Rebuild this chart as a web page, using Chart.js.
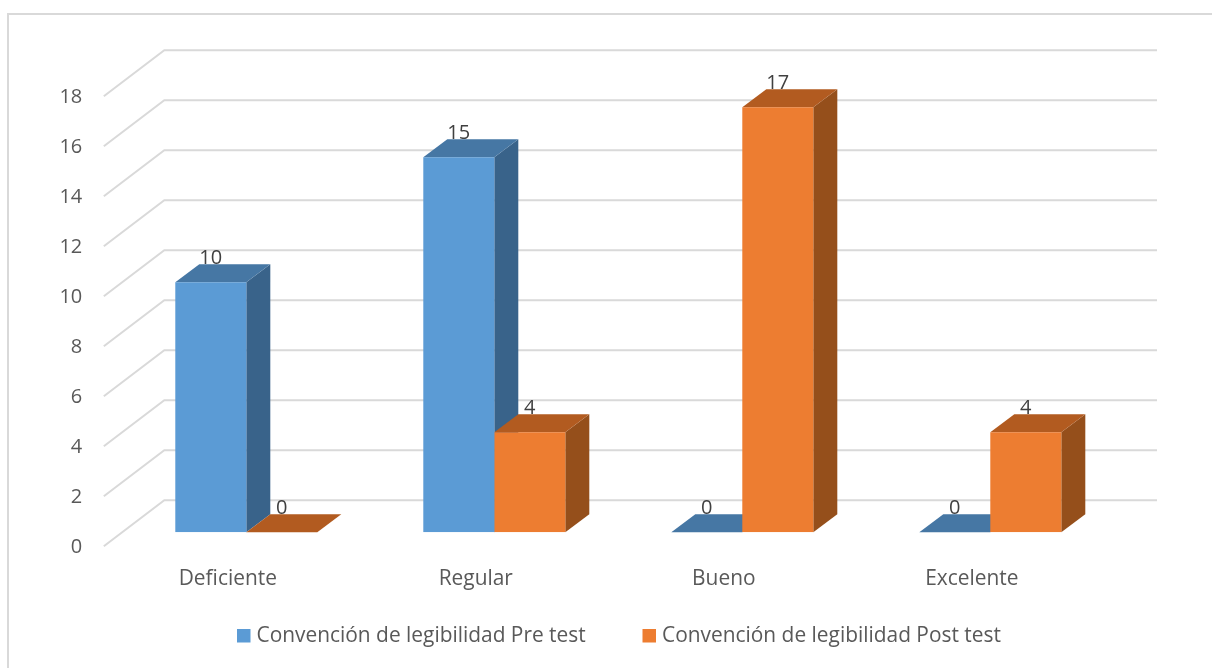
<!DOCTYPE html>
<html>
<head>
<meta charset="utf-8">
<title>Convención de legibilidad</title>
<script src="https://cdn.jsdelivr.net/npm/chart.js@4"></script>
<style>
    html, body { margin: 0; padding: 0; background: #fff; }
    canvas { display: block; }
</style>
</head>
<body>
<canvas id="legibilidadChart" width="1212" height="668"></canvas>
<script>
const categories = ['Deficiente', 'Regular', 'Bueno', 'Excelente'];
const seriesNames = ['Convención de legibilidad Pre test', 'Convención de legibilidad Post test'];
const preTest = [10, 15, 0, 0];
const postTest = [0, 4, 17, 4];

const FONT = '"Open Sans", sans-serif';
const faces = [
    { front: '#5b9bd5', top: '#4677a4', side: '#39638a' },
    { front: '#ed7d31', top: '#b25b20', side: '#954f1b' }
];
const barDepth = { x: 24, y: -18 };     // fake 3d depth of the columns
const wallBack = { x: 42, y: -32 };     // back wall, seen from the bar front plane
const wallFront = { x: -18.5, y: 14 };  // where the floor lines stop at the left
const wallRight = 1157;

function poly(ctx, points, color) {
    ctx.fillStyle = color;
    ctx.beginPath();
    points.forEach((p, i) => i ? ctx.lineTo(p[0], p[1]) : ctx.moveTo(p[0], p[1]));
    ctx.closePath();
    ctx.fill();
}

const frame = {
    id: 'frame',
    beforeDraw(chart) {
        const ctx = chart.ctx;
        ctx.save();
        ctx.strokeStyle = '#d9d9d9';
        ctx.lineWidth = 2;
        ctx.beginPath();
        ctx.moveTo(8, chart.height);
        ctx.lineTo(8, 14);
        ctx.lineTo(chart.width, 14);
        ctx.stroke();
        ctx.restore();
    }
};

const walls = {
    id: 'walls',
    beforeDatasetsDraw(chart) {
        const ctx = chart.ctx;
        const yScale = chart.scales.y;
        const left = chart.chartArea.left;
        ctx.save();
        ctx.strokeStyle = '#d9d9d9';
        ctx.lineWidth = 2;
        yScale.ticks.forEach(t => {
            const y = yScale.getPixelForValue(t.value);
            ctx.beginPath();
            ctx.moveTo(left + wallFront.x, y + wallFront.y);
            ctx.lineTo(left + wallBack.x, y + wallBack.y);
            ctx.lineTo(wallRight, y + wallBack.y);
            ctx.stroke();
        });
        ctx.restore();
    }
};

// side and top faces go under the front rectangles drawn by the library
const depthFaces = {
    id: 'depthFaces',
    beforeDatasetsDraw(chart) {
        const ctx = chart.ctx;
        chart.data.datasets.forEach((ds, i) => {
            chart.getDatasetMeta(i).data.forEach(bar => {
                const l = bar.x - bar.width / 2;
                const r = bar.x + bar.width / 2;
                const dx = barDepth.x, dy = barDepth.y;
                if (bar.base - bar.y > 0) {
                    poly(ctx, [[r, bar.y], [r + dx, bar.y + dy], [r + dx, bar.base + dy], [r, bar.base]], faces[i].side);
                }
                poly(ctx, [[l, bar.y], [r, bar.y], [r + dx, bar.y + dy], [l + dx, bar.y + dy]], faces[i].top);
            });
        });
    }
};

const valueLabels = {
    id: 'valueLabels',
    afterDatasetsDraw(chart) {
        const ctx = chart.ctx;
        ctx.save();
        ctx.font = '20px ' + FONT;
        ctx.fillStyle = '#404040';
        ctx.textAlign = 'center';
        ctx.textBaseline = 'middle';
        chart.data.datasets.forEach((ds, i) => {
            chart.getDatasetMeta(i).data.forEach((bar, j) => {
                ctx.fillText(ds.data[j], bar.x, bar.y - 24);
            });
        });
        ctx.restore();
    }
};

// the library legend has a fixed gap between box and text, too wide here
const bottomLegend = {
    id: 'bottomLegend',
    afterDraw(chart) {
        const ctx = chart.ctx;
        const starts = [237, 642.5];
        ctx.save();
        ctx.font = '20.9px ' + FONT;
        ctx.textBaseline = 'middle';
        chart.data.datasets.forEach((ds, i) => {
            ctx.fillStyle = ds.backgroundColor;
            ctx.fillRect(starts[i], 629, 13.5, 13.5);
            ctx.fillStyle = '#595959';
            ctx.fillText(ds.label, starts[i] + 19.5, 636.5);
        });
        ctx.restore();
    }
};

new Chart(document.getElementById('legibilidadChart').getContext('2d'), {
    type: 'bar',
    data: {
        labels: categories,
        datasets: [
            { label: seriesNames[0], data: preTest, backgroundColor: faces[0].front },
            { label: seriesNames[1], data: postTest, backgroundColor: faces[1].front }
        ]
    },
    options: {
        responsive: false,
        animation: false,
        devicePixelRatio: 1,
        categoryPercentage: 0.5726,
        barPercentage: 1,
        layout: { padding: { top: 82.3, right: 97.7, bottom: 0, left: 0 } },
        plugins: {
            legend: { display: false },
            tooltip: { enabled: false }
        },
        scales: {
            x: {
                grid: { display: false, drawTicks: false },
                border: { display: false },
                ticks: {
                    color: '#595959',
                    font: { family: FONT, size: 20.9 },
                    labelOffset: -18.5,
                    padding: 34,
                    maxRotation: 0
                },
                afterFit(scale) { scale.height = 135.7; }
            },
            y: {
                min: 0,
                max: 18,
                grid: { display: false, drawTicks: false },
                border: { display: false },
                ticks: {
                    stepSize: 2,
                    color: '#595959',
                    font: { family: FONT, size: 20 },
                    labelOffset: 15,
                    padding: 40
                },
                afterFit(scale) { scale.width = 122.3; }
            }
        }
    },
    plugins: [frame, walls, depthFaces, valueLabels, bottomLegend]
});
</script>
</body>
</html>
